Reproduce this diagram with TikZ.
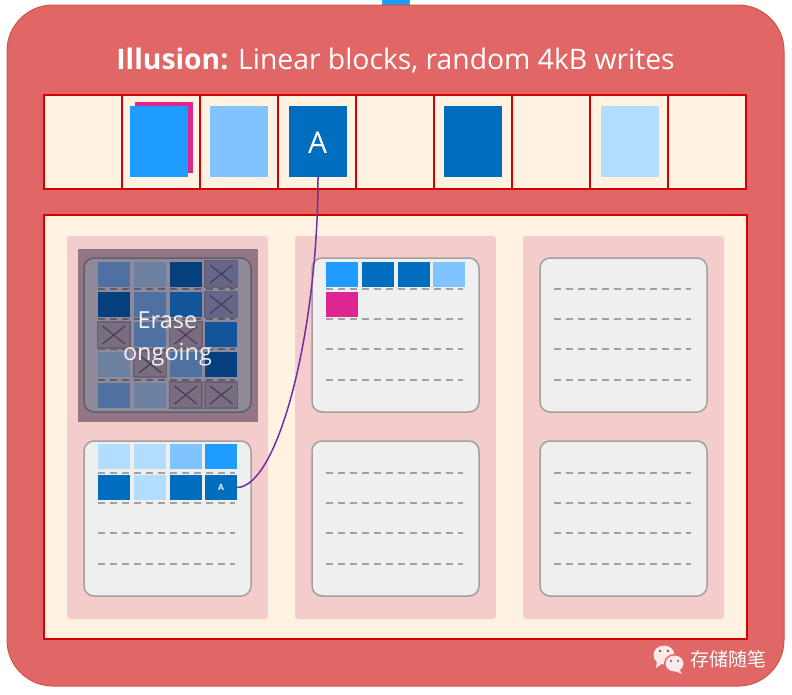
\documentclass[tikz,border=0pt]{standalone}
\usepackage{fontspec}
\setmainfont{Open Sans}
\newfontfamily\cjkwm{Noto Sans CJK SC}
\definecolor{outerfill}{HTML}{E16666}
\definecolor{outerline}{HTML}{CC5544}
\definecolor{cream}{HTML}{FFF2E0}
\definecolor{redline}{HTML}{D20000}
\definecolor{pinkcol}{HTML}{F4CCCC}
\definecolor{ssdfill}{HTML}{EFEFEF}
\definecolor{ssdline}{HTML}{A0A0A0}
\definecolor{bA}{HTML}{1E9CFF}
\definecolor{bB}{HTML}{7FC4FF}
\definecolor{bC}{HTML}{006DBF}
\definecolor{bD}{HTML}{B3DDFF}
\definecolor{bM}{HTML}{DE2690}
\definecolor{purp}{HTML}{7030A0}
\definecolor{xfill}{HTML}{C9BFC4}
\definecolor{xedge}{HTML}{B0A6AE}
\definecolor{xcross}{HTML}{786A7C}
\tikzset{
  x=1pt,y=-1pt,
  boxat/.style={anchor=north west,inner sep=0pt,outer sep=0pt},
  stripcell/.style={boxat,draw=redline,line width=1.5pt,fill=cream,minimum width=78pt,minimum height=94pt},
  colbox/.style={boxat,fill=pinkcol,rounded corners=3pt,minimum width=201pt,minimum height=383pt},
  ssd/.style={boxat,draw=ssdline,line width=1.5pt,fill=ssdfill,rounded corners=10pt,minimum width=167pt,minimum height=154pt},
  big/.style={boxat,minimum width=58pt,minimum height=71pt},
  page/.style={boxat,minimum width=32pt,minimum height=25pt},
  xpage/.style={boxat,minimum width=32.5pt,minimum height=26pt,draw=xedge,line width=1.2pt,fill=xfill},
  dashrow/.style={draw=ssdline,line width=1.6pt,dash pattern=on 7pt off 5pt},
  wm/.style={fill=white!86!outerfill,draw=none}
}
\newcommand{\dashes}[2]{%
  \foreach \yy in {0,30,60,91}{\draw[dashrow] (#1,#2+\yy) -- (#1+137,#2+\yy);}}
\newcommand{\xcell}[3]{%
  \node[xpage] (#1) at (#2,#3) {};
  \draw[xcross,line width=1.2pt] ($(#1.north west)+(5,4)$) -- ($(#1.south east)+(-5,-4)$);
  \draw[xcross,line width=1.2pt] ($(#1.north east)+(-5,4)$) -- ($(#1.south west)+(5,-4)$);}
\usetikzlibrary{calc}
\begin{document}
\begin{tikzpicture}
\useasboundingbox (0,0) rectangle (792,694);
\clip (0,0) rectangle (792,694);
\fill[white] (0,0) rectangle (792,694);
% top fragment and outer panel
\node[boxat,fill=bA,minimum width=28pt,minimum height=6pt] (topbit) at (382,0) {};
\node[boxat,fill=outerfill,draw=outerline,line width=1pt,rounded corners=46pt,minimum width=777pt,minimum height=681pt] (outer) at (7,5) {};
\node[text=white,font=\fontsize{28.3}{32}\selectfont] (title) at (395.5,61) {\textbf{Illusion:} Linear blocks, random 4kB writes};
% linear strip
\foreach \i/\xx in {1/44,2/122,3/200,4/278,5/356,6/434,7/512,8/590,9/668}{
  \node[stripcell] (s\i) at (\xx,95) {};
}
\node[big,fill=bM] (lm) at (135,102) {};
\node[big,fill=bA] (l2) at (130,106) {};
\node[big,fill=bB] (l3) at (210,106) {};
\node[big,fill=bC] (l4) at (289,106) {};
\node[text=white,font=\fontsize{30}{32}\selectfont] (l4text) at (317.5,142.5) {A};
\node[big,fill=bC] (l6) at (444,106) {};
\node[big,fill=bD] (l8) at (601,106) {};
% physical area
\node[boxat,draw=redline,line width=1.5pt,fill=cream,minimum width=703pt,minimum height=424pt] (phys) at (44,215) {};
\node[colbox] (c1) at (67,236) {};
\node[colbox] (c2) at (295,236) {};
\node[colbox] (c3) at (523,236) {};
% SSD blocks
\node[ssd] (b1) at (84,258) {};
\node[ssd,minimum height=155pt] (b2) at (84,441) {};
\node[ssd] (b3) at (312,258) {};
\node[ssd,minimum height=155pt] (b4) at (312,441) {};
\node[ssd] (b5) at (540,258) {};
\node[ssd,minimum height=155pt] (b6) at (540,441) {};
% erased block pages
\dashes{98}{289}
\node[page,fill=bB] (e11) at (98,262) {};
\node[page,fill=bD] (e12) at (134,262) {};
\node[page,fill=bC] (e13) at (170,262) {};
\node[page,fill=bC] (e21) at (98,292) {};
\node[page,fill=bB] (e22) at (134,292) {};
\node[page,fill=bA!80!bC] (e23) at (170,292) {};
\node[page,fill=bB] (e32) at (134,322) {};
\node[page,fill=bA!80!bC] (e34) at (205,322) {};
\node[page,fill=bD] (e41) at (98,352) {};
\node[page,fill=bB] (e43) at (170,352) {};
\node[page,fill=bC] (e44) at (205,352) {};
\node[page,fill=bB] (e51) at (98,383) {};
\node[page,fill=bD] (e52) at (134,383) {};
\begin{scope}
\definecolor{xfill}{HTML}{A4B2D4}
\xcell{x14}{205}{261}
\xcell{x24}{205}{291.5}
\end{scope}
\xcell{x31}{97.5}{322}
\xcell{x33}{169.5}{322}
\xcell{x42}{134}{351}
\xcell{x53}{169.5}{382}
\xcell{x54}{205}{382}
% dark overlay
\node[boxat,fill={rgb,255:red,12;green,0;blue,35},fill opacity=.42,minimum width=180pt,minimum height=173pt] (veil) at (78,249) {};
\node[text=white,text opacity=.9,align=center,font=\fontsize{23.5}{32}\selectfont] (erase) at (167.5,339) {Erase\\ongoing};
% lower-left block pages
\dashes{98}{473}
\node[page,fill=bD] (p11) at (98,444) {};
\node[page,fill=bD] (p12) at (134,444) {};
\node[page,fill=bB] (p13) at (170,444) {};
\node[page,fill=bA] (p14) at (205,444) {};
\node[page,fill=bC] (p21) at (98,475) {};
\node[page,fill=bD] (p22) at (134,475) {};
\node[page,fill=bC] (p23) at (170,475) {};
\node[page,fill=bC,text=white!80!bB,font=\bfseries\fontsize{8.5}{10}\selectfont] (p24) at (205,475) {A};
% middle block pages
\dashes{326}{289}
\node[page,fill=bA] (m11) at (326,262) {};
\node[page,fill=bC] (m12) at (362,262) {};
\node[page,fill=bC] (m13) at (398,262) {};
\node[page,fill=bB] (m14) at (433,262) {};
\node[page,fill=bM] (m21) at (326,292) {};
% empty blocks
\dashes{326}{473}
\dashes{554}{289}
\dashes{554}{473}
% connector
\draw[purp,line width=1.5pt] (l4.south) .. controls (318,332) and (278,487) .. (p24.east);
% watermark
\fill[wm] (664,655) ellipse [x radius=10.5, y radius=9.5];
\fill[wm] (657,661) -- (656,668) -- (663,663) -- cycle;
\fill[outerfill] (674.5,663.5) ellipse [x radius=10.5, y radius=9.5];
\fill[wm] (674.5,663.5) ellipse [x radius=9, y radius=8];
\fill[wm] (679,669) -- (682,674) -- (675,671) -- cycle;
\fill[outerfill!70!black] (660,651) circle (1.3) (668,651) circle (1.3) (671,661) circle (1.1) (678,661) circle (1.1);
\node[text=black!55,opacity=.6,font=\cjkwm\fontsize{19}{22}\selectfont] (wmshadow) at (728.8,659.6) {存储随笔};
\node[text=white,font=\cjkwm\fontsize{19}{22}\selectfont] (wmtext) at (728,659) {存储随笔};
\end{tikzpicture}
\end{document}
